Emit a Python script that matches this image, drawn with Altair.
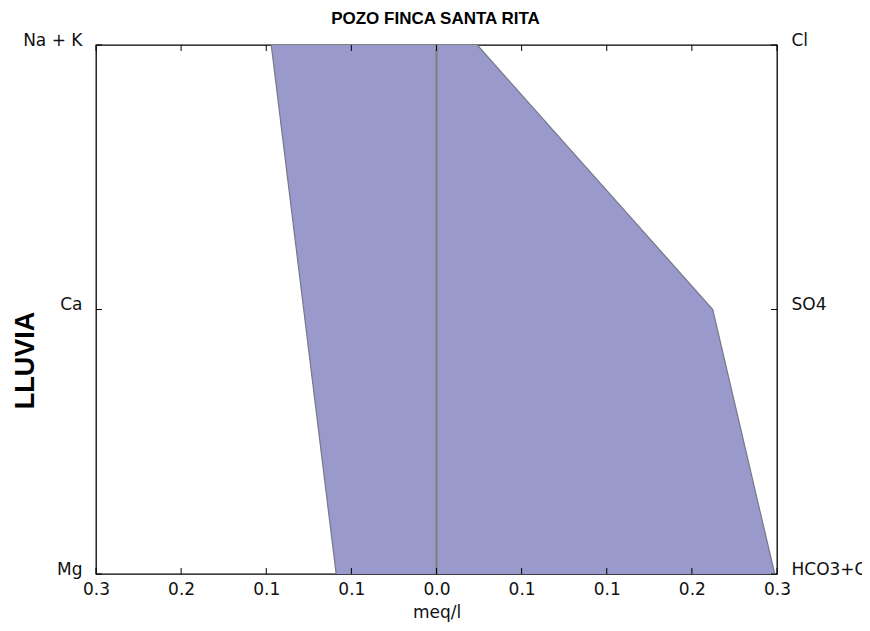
import altair as alt
import pandas as pd

# ---- data ----
levels = [2, 1, 0]
cation_names = ["Na + K", "Ca", "Mg"]
anion_names = ["Cl", "SO4", "HCO3+CO3"]
cation_vals = [0.1456, 0.117, 0.0884]
anion_vals = [0.0359, 0.2434, 0.298]
x_ticks = [-0.3, -0.225, -0.15, -0.075, 0.0, 0.075, 0.15, 0.225, 0.3]
x_tick_labels = ["0.3", "0.2", "0.1", "0.1", "0.0", "0.1", "0.1", "0.2", "0.3"]
title_text = "POZO FINCA SANTA RITA"
y_title = "LLUVIA"
x_title = "meq/l"

df = pd.DataFrame({
    "level": levels,
    "cation": [-v for v in cation_vals],
    "anion": anion_vals,
})
ticks_df = pd.DataFrame({"t": x_ticks})
lev_df = pd.DataFrame({"level": levels})
title_df = pd.DataFrame({"txt": [title_text]})

W, H = 681, 529
FILL = "#9999cc"
EDGE = "#77778a"
FONT = "DejaVu Sans"

xscale = alt.Scale(domain=[-0.3, 0.3], nice=False, zero=False)
yscale = alt.Scale(domain=[0, 2], nice=False, zero=False)

x_label_expr = "[" + ",".join("'%s'" % s for s in x_tick_labels) + "][indexof([" + \
    ",".join(repr(v) for v in x_ticks) + "], datum.value)]"

def level_expr(names):
    by_level = [n for _, n in sorted(zip(levels, names))]
    return "[" + ",".join("'%s'" % s for s in by_level) + "][round(datum.value)]"

x_axis = alt.Axis(values=x_ticks, labelExpr=x_label_expr, title=x_title,
                  domain=False, ticks=False, grid=False, labelFlush=False,
                  labelFont=FONT, labelFontSize=17, labelOverlap=False,
                  labelColor="#111", labelPadding=7, titleFont=FONT, titleFontSize=17,
                  titleFontWeight="normal", titleColor="#111", titlePadding=7)

left_axis = alt.Axis(values=levels, labelExpr=level_expr(cation_names), title=y_title,
                     domain=False, ticks=False, grid=False, labelFont=FONT, labelFontSize=17,
                     labelColor="#111", labelPadding=14, labelBaseline="alphabetic",
                     labelAlign="right", labelFlush=False, labelOverlap=False,
                     titleFont="Liberation Sans", titleFontSize=27,
                     titleFontWeight="bold", titleColor="#000", titleAngle=-90,
                     titleX=-63, titleY=315, titleAlign="center", titleBaseline="alphabetic")

right_axis = alt.Axis(orient="right", values=levels, labelExpr=level_expr(anion_names),
                      title=None, domain=False, ticks=False, grid=False, labelFont=FONT,
                      labelFontSize=17, labelColor="#111", labelPadding=14,
                      labelBaseline="alphabetic", labelAlign="left", labelFlush=False,
                      labelOverlap=False)

area = alt.Chart(df).mark_area(orient="horizontal", color=FILL, opacity=1).encode(
    y=alt.Y("level:Q", scale=yscale, axis=left_axis),
    x=alt.X("cation:Q", scale=xscale, axis=x_axis),
    x2="anion:Q",
)

left_line = alt.Chart(df).mark_line(color=EDGE, strokeWidth=1.2).encode(
    y=alt.Y("level:Q", scale=yscale, axis=None),
    x=alt.X("cation:Q", scale=xscale),
    order="level:Q",
)

right_line = alt.Chart(df).mark_line(color=EDGE, strokeWidth=1.2).encode(
    y=alt.Y("level:Q", scale=yscale, axis=right_axis),
    x=alt.X("anion:Q", scale=xscale),
    order="level:Q",
)

center = alt.Chart(df).mark_rule(color="#808080", strokeWidth=1.5).encode(
    x=alt.datum(0, scale=xscale),
)

top_ticks = alt.Chart(ticks_df).mark_rule(color="#000", strokeWidth=1).encode(
    x=alt.X("t:Q", scale=xscale), y=alt.value(0), y2=alt.value(6))
bot_ticks = alt.Chart(ticks_df).mark_rule(color="#000", strokeWidth=1).encode(
    x=alt.X("t:Q", scale=xscale), y=alt.value(H), y2=alt.value(H - 6))
left_ticks = alt.Chart(lev_df).mark_rule(color="#000", strokeWidth=1).encode(
    y=alt.Y("level:Q", scale=yscale, axis=None), x=alt.value(0), x2=alt.value(6))
right_ticks = alt.Chart(lev_df).mark_rule(color="#000", strokeWidth=1).encode(
    y=alt.Y("level:Q", scale=yscale, axis=None), x=alt.value(W), x2=alt.value(W - 6))

title_mark = alt.Chart(title_df).mark_text(
    font="Liberation Sans", fontSize=17, fontWeight="bold", color="#000",
    align="center", baseline="alphabetic").encode(
    text="txt:N", x=alt.value(W / 2 - 1), y=alt.value(-21))

chart = alt.layer(
    area, left_line, center, top_ticks, bot_ticks, left_ticks, right_ticks, right_line,
    title_mark
).resolve_scale(y="independent").properties(
    width=W, height=H,
    autosize=alt.AutoSizeParams(type="none"),
    padding={"left": 88, "top": 37, "right": 85, "bottom": 55},
).configure_view(stroke="#000", strokeWidth=1.3)

chart.save("out.html", embed_options={"renderer": "svg", "actions": False})
